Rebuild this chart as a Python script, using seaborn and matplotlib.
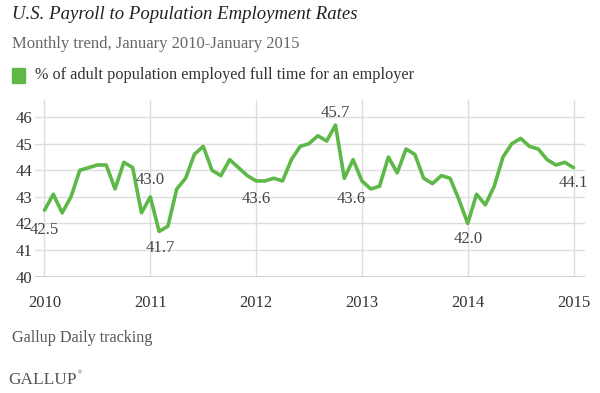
import numpy as np
import pandas as pd
import seaborn as sns
import matplotlib.pyplot as plt

# Monthly values, January 2010 to January 2015
years = ["2010", "2011", "2012", "2013", "2014", "2015"]
rate = [
    42.5, 43.1, 42.4, 43.0, 44.0, 44.1, 44.2, 44.2, 43.3, 44.3, 44.1, 42.4,
    43.0, 41.7, 41.9, 43.3, 43.7, 44.6, 44.9, 44.0, 43.8, 44.4, 44.1, 43.8,
    43.6, 43.6, 43.7, 43.6, 44.4, 44.9, 45.0, 45.3, 45.1, 45.7, 43.7, 44.4,
    43.6, 43.3, 43.4, 44.5, 43.9, 44.8, 44.6, 43.7, 43.5, 43.8, 43.7, 42.9,
    42.0, 43.1, 42.7, 43.4, 44.5, 45.0, 45.2, 44.9, 44.8, 44.4, 44.2, 44.3,
    44.1,
]
# labelled points: month index, text, offset in points
labels_idx = [0, 12, 13, 24, 33, 36, 48, 60]
labels_txt = ["42.5", "43.0", "41.7", "43.6", "45.7", "43.6", "42.0", "44.1"]
labels_off = [(0, -14), (0, 12), (1, -12), (0, -13), (0, 9), (-8, -13), (0, -11), (0, -11)]

df = pd.DataFrame({"month": np.arange(len(rate)), "rate": rate})

sns.set_theme(style="white")
plt.rcParams["font.family"] = ["Liberation Serif", "DejaVu Serif"]

green = "#5DB847"
grid = "#DDDDDD"

fig = plt.figure(figsize=(6, 3.93), dpi=100)
ax = fig.add_axes([0.058, 0.296, 0.917, 0.45])

sns.lineplot(data=df, x="month", y="rate", ax=ax, color=green, linewidth=2.6)

ax.set_xlim(-1.1, 61.3)
ax.set_ylim(40, 46.65)
ax.set_yticks(range(40, 47))
ax.set_xticks(np.arange(0, 61, 12))
ax.set_xticklabels(years)
ax.grid(True, color=grid, linewidth=1)
ax.set_axisbelow(True)
for s in ax.spines.values():
    s.set_visible(False)
ax.axhline(40, color="#C8C8C8", linewidth=1.2, zorder=1)
ax.tick_params(axis="both", length=0, labelsize=12, colors="#333333")
ax.tick_params(axis="x", pad=13)
ax.tick_params(axis="y", pad=2)
ax.set_xlabel("")
ax.set_ylabel("")

for i, t, off in zip(labels_idx, labels_txt, labels_off):
    ax.annotate(t, (i, rate[i]), xytext=off, textcoords="offset points",
                ha="center", va="center", fontsize=12, color="#444444")

fig.text(0.02, 0.962, "U.S. Payroll to Population Employment Rates",
         fontsize=13.5, style="italic", color="#222222", va="center")
fig.text(0.02, 0.887, "Monthly trend, January 2010-January 2015",
         fontsize=12, color="#666666", va="center")
fig.patches.append(plt.Rectangle((0.02, 0.79), 0.022, 0.036, color=green,
                                 transform=fig.transFigure, figure=fig))
fig.text(0.058, 0.809, "% of adult population employed full time for an employer",
         fontsize=11.7, color="#333333", va="center")
fig.text(0.02, 0.14, "Gallup Daily tracking", fontsize=11.6, color="#555555", va="center")
fig.text(0.013, 0.033, "GALLUP", fontsize=12.5, color="#555555", va="center")
fig.text(0.129, 0.052, "®", fontsize=4, color="#555555", va="center")

fig.savefig("out.png", dpi=100)
